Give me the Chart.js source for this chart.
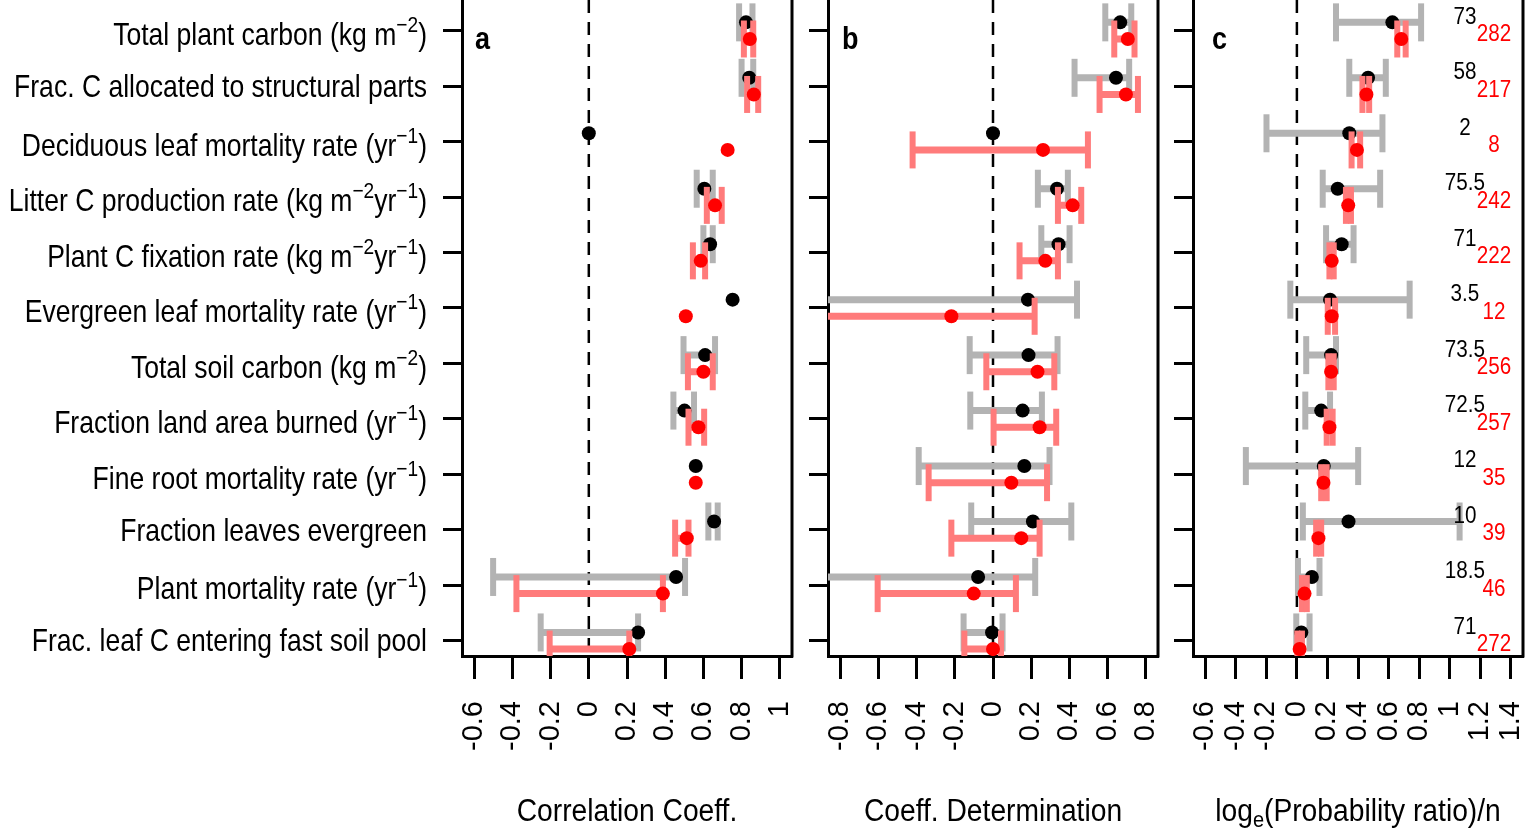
<!DOCTYPE html>
<html><head><meta charset="utf-8">
<script src="https://cdn.jsdelivr.net/npm/chart.js@4.4.1/dist/chart.umd.min.js"></script>
<style>
html,body{margin:0;padding:0;background:#fff;width:1529px;height:829px;overflow:hidden;}
canvas{position:absolute;top:0;}
</style></head><body>
<canvas id="ca" width="800" height="829" style="left:0px"></canvas>
<canvas id="cb" width="365" height="829" style="left:800px"></canvas>
<canvas id="cc" width="364" height="829" style="left:1165px"></canvas>
<script>
// ---------- categories (rows, top to bottom); ^{..} marks a superscript ----------
const categories = [
  'Total plant carbon (kg m^{\u22122})',
  'Frac. C allocated to structural parts',
  'Deciduous leaf mortality rate (yr^{\u22121})',
  'Litter C production rate (kg m^{\u22122}yr^{\u22121})',
  'Plant C fixation rate (kg m^{\u22122}yr^{\u22121})',
  'Evergreen leaf mortality rate (yr^{\u22121})',
  'Total soil carbon (kg m^{\u22122})',
  'Fraction land area burned (yr^{\u22121})',
  'Fine root mortality rate (yr^{\u22121})',
  'Fraction leaves evergreen',
  'Plant mortality rate (yr^{\u22121})',
  'Frac. leaf C entering fast soil pool'
];
const rows = [1,2,3,4,5,6,7,8,9,10,11,12];

// ---------- panel a : Correlation Coeff. ----------
const aBlack   = [0.823, 0.840, 0.000, 0.605, 0.635, 0.753, 0.609, 0.501, 0.560, 0.656, 0.457, 0.258];
const aBlackLo = [0.787, 0.800, null,  0.565, 0.600, null,  0.496, 0.443, null,  0.626, -0.501, -0.252];
const aBlackHi = [0.857, 0.861, null,  0.649, 0.649, null,  0.661, 0.551, null,  0.675, 0.504, 0.258];
const aRed     = [0.843, 0.864, 0.727, 0.661, 0.586, 0.508, 0.600, 0.574, 0.560, 0.513, 0.388, 0.212];
const aRedLo   = [0.812, 0.829, null,  0.618, 0.545, null,  0.519, 0.522, null,  0.452, -0.379, -0.205];
const aRedHi   = [0.861, 0.887, null,  0.696, 0.609, null,  0.649, 0.604, null,  0.522, 0.388, 0.212];
const aTicks   = [-0.6, -0.4, -0.2, 0, 0.2, 0.4, 0.6, 0.8, 1];
const aTickLabels = ['-0.6','-0.4','-0.2','0','0.2','0.4','0.6','0.8','1'];

// ---------- panel b : Coeff. Determination ----------
const bBlack   = [0.666, 0.644, 0.000, 0.335, 0.343, 0.183, 0.186, 0.155, 0.164, 0.209, -0.078, -0.005];
const bBlackLo = [0.588, 0.427, null,  0.235, 0.253, -1.2,  -0.122, -0.119, -0.389, -0.114, -1.2, -0.154];
const bBlackHi = [0.724, 0.713, null,  0.392, 0.401, 0.440, 0.338, 0.256, 0.296, 0.410, 0.221, 0.050];
const bRed     = [0.706, 0.696, 0.262, 0.417, 0.274, -0.218, 0.233, 0.244, 0.096, 0.148, -0.101, 0.000];
const bRedLo   = [0.635, 0.558, -0.421, 0.340, 0.139, -1.2, -0.035, 0.003, -0.337, -0.218, -0.604, -0.150];
const bRedHi   = [0.741, 0.759, 0.497, 0.462, 0.340, 0.218, 0.321, 0.331, 0.283, 0.244, 0.120, 0.042];
const bTicks   = [-0.8, -0.6, -0.4, -0.2, 0, 0.2, 0.4, 0.6, 0.8];
const bTickLabels = ['-0.8','-0.6','-0.4','-0.2','0','0.2','0.4','0.6','0.8'];

// ---------- panel c : log_e(Probability ratio)/n ----------
const cBlack   = [0.625, 0.466, 0.343, 0.267, 0.293, 0.217, 0.224, 0.159, 0.176, 0.338, 0.098, 0.029];
const cBlackLo = [0.256, 0.343, -0.199, 0.169, 0.191, -0.043, 0.061, 0.055, -0.334, 0.039, 0.007, -0.004];
const cBlackHi = [0.813, 0.582, 0.560, 0.545, 0.371, 0.738, 0.256, 0.217, 0.401, 1.065, 0.148, 0.083];
const cRed     = [0.683, 0.455, 0.393, 0.336, 0.228, 0.228, 0.224, 0.213, 0.174, 0.141, 0.050, 0.018];
const cRedLo   = [0.657, 0.429, 0.358, 0.321, 0.213, 0.202, 0.206, 0.195, 0.159, 0.126, 0.033, 0.003];
const cRedHi   = [0.712, 0.473, 0.414, 0.354, 0.241, 0.250, 0.241, 0.234, 0.195, 0.159, 0.065, 0.033];
const cTicks   = [-0.6, -0.4, -0.2, 0, 0.2, 0.4, 0.6, 0.8, 1, 1.2, 1.4];
const cTickLabels = ['-0.6','-0.4','-0.2','0','0.2','0.4','0.6','0.8','1','1.2','1.4'];
const cCountBlack = ['73','58','2','75.5','71','3.5','73.5','72.5','12','10','18.5','71'];
const cCountRed   = ['282','217','8','242','222','12','256','257','35','39','46','272'];

// ---------- styling ----------
const GRAY = '#B3B3B3', LRED = '#FF7B7B', RED = '#FF0000', BLACK = '#000000';
const REG = "'Liberation Sans', Arimo, Arial, sans-serif";
const Y_MIN = 0.447, Y_MAX = 12.275, OFF = 0.15;

function barData(lo, hi, off) {
  const d = [];
  rows.forEach((r, i) => {
    if (lo[i] === null) return;
    d.push({x: lo[i], y: r + off}, {x: hi[i], y: r + off}, {x: null, y: null});
  });
  return d;
}
function ptData(v, off) { return rows.map((r, i) => ({x: v[i], y: r + off})); }

function parseRich(str) {
  const out = []; const re = /\^\{([^}]*)\}|_\{([^}]*)\}/g; let last = 0, m;
  while ((m = re.exec(str))) {
    if (m.index > last) out.push({t: str.slice(last, m.index), k: 'n'});
    out.push(m[1] !== undefined ? {t: m[1], k: 'sup'} : {t: m[2], k: 'sub'});
    last = re.lastIndex;
  }
  if (last < str.length) out.push({t: str.slice(last), k: 'n'});
  return out;
}
function richText(ctx, str, x, y, o) {
  const segs = parseRich(str);
  const fontFor = k => (o.bold ? 'bold ' : '') + (k === 'n' ? o.size : Math.round(o.size * 0.72)) + 'px ' + REG;
  let w = 0;
  segs.forEach(s => { ctx.font = fontFor(s.k); s.w = ctx.measureText(s.t).width; w += s.w; });
  const start = o.align === 'right' ? -w : o.align === 'center' ? -w / 2 : 0;
  ctx.save();
  ctx.translate(x, y); ctx.scale(o.sx, 1);
  ctx.fillStyle = o.color || '#000'; ctx.textAlign = 'left'; ctx.textBaseline = 'alphabetic';
  let cx = start;
  segs.forEach(s => {
    ctx.font = fontFor(s.k);
    const dy = s.k === 'sup' ? -o.size * 0.42 : s.k === 'sub' ? o.size * 0.2 : 0;
    ctx.fillText(s.t, cx, dy); cx += s.w;
  });
  ctx.restore();
}

const framePlugin = {
  id: 'frame',
  afterDraw(chart, args, o) {
    const ctx = chart.ctx, ca = chart.chartArea, xs = chart.scales.x, ys = chart.scales.y;
    ctx.save();
    ctx.strokeStyle = '#000'; ctx.lineWidth = 3;
    ctx.beginPath(); ctx.moveTo(ca.right, ca.top); ctx.lineTo(ca.right, ca.bottom + 1.5); ctx.stroke();
    ctx.restore();
    // panel letter
    richText(ctx, o.letter, ca.left + o.letterDx, 49, {size: 31, bold: true, sx: 0.87, align: 'left'});
    // axis title
    richText(ctx, o.title, (ca.left + ca.right) / 2, 821, {size: 31, sx: 0.91, align: 'center'});
    // category labels
    if (o.showLabels) {
      ys.ticks.forEach((t) => {
        const lab = categories[Math.round(t.value) - 1];
        const hasSup = lab.indexOf('^{') >= 0;
        const py = ys.getPixelForValue(t.value) + 10.7 + (hasSup ? 3.5 : 0);
        richText(ctx, lab, ca.left - 35, py, {size: 30.5, sx: 0.87, align: 'right'});
      });
    }
    // sample counts
    if (o.countsBlack) {
      rows.forEach((r, i) => {
        const py = ys.getPixelForValue(r);
        richText(ctx, o.countsBlack[i], xs.getPixelForValue(o.blackX), py - 15.5 + 8.6,
                 {size: 24, sx: 0.86, align: 'center', color: '#000'});
        richText(ctx, o.countsRed[i], xs.getPixelForValue(o.redX), py + 2 + 8.6,
                 {size: 24, sx: 0.86, align: 'center', color: RED});
      });
    }
  }
};

function makePanel(id, p) {
  const datasets = [
    {data: [{x: 0, y: Y_MIN}, {x: 0, y: Y_MAX}], showLine: true, borderColor: '#000', borderWidth: 2.5,
     borderDash: [13, 9], pointRadius: 0, order: 5},
    {data: barData(p.blo, p.bhi, -OFF), showLine: true, borderColor: GRAY, borderWidth: 7,
     pointStyle: 'line', pointRotation: 90, pointRadius: 19, pointBorderWidth: 6,
     pointBorderColor: GRAY, pointBackgroundColor: GRAY, order: 4},
    {data: ptData(p.b, -OFF), showLine: false, pointRadius: 7, pointBorderWidth: 0,
     pointBackgroundColor: BLACK, pointBorderColor: BLACK, order: 3},
    {data: barData(p.rlo, p.rhi, OFF), showLine: true, borderColor: LRED, borderWidth: 7,
     pointStyle: 'line', pointRotation: 90, pointRadius: 18.5, pointBorderWidth: 6,
     pointBorderColor: LRED, pointBackgroundColor: LRED, order: 2},
    {data: ptData(p.r, OFF), showLine: false, pointRadius: 7, pointBorderWidth: 0,
     pointBackgroundColor: RED, pointBorderColor: RED, order: 1}
  ];
  return new Chart(document.getElementById(id), {
    type: 'scatter',
    data: {datasets},
    options: {
      responsive: false, animation: false, devicePixelRatio: 1, events: [],
      layout: {autoPadding: false, padding: {left: 0, right: p.padRight, top: 0, bottom: 0}},
      plugins: {legend: {display: false}, tooltip: {enabled: false},
        frame: {letter: p.letter, letterDx: p.letterDx, title: p.title, showLabels: p.showLabels,
                countsBlack: p.countsBlack, countsRed: p.countsRed, blackX: 1.1, redX: 1.29}},
      scales: {
        x: {
          type: 'linear', min: p.xmin, max: p.xmax,
          afterBuildTicks: s => { s.ticks = p.ticks.map(v => ({value: v})); },
          afterFit: s => { s.height = 173; s.paddingLeft = 0; s.paddingRight = 0; },
          ticks: {autoSkip: false, minRotation: 90, maxRotation: 90, padding: 22, color: '#000',
                  font: {family: REG, size: 29}, callback: (v, i) => p.tickLabels[i]},
          grid: {display: true, drawOnChartArea: false, drawTicks: true, tickLength: 23,
                 tickWidth: 3, tickColor: '#000'},
          border: {display: true, width: 3, color: '#000'},
          title: {display: false}
        },
        y: {
          type: 'linear', reverse: true, min: Y_MIN, max: Y_MAX,
          afterBuildTicks: s => { s.ticks = rows.map(v => ({value: v})); },
          afterFit: s => { s.width = p.yWidth; s.paddingTop = 0; s.paddingBottom = 0; },
          ticks: {display: false},
          grid: {display: true, drawOnChartArea: false, drawTicks: true, tickLength: 19,
                 tickWidth: 3, tickColor: '#000'},
          border: {display: true, width: 3, color: '#000'}
        }
      }
    },
    plugins: [framePlugin]
  });
}

makePanel('ca', {b: aBlack, blo: aBlackLo, bhi: aBlackHi, r: aRed, rlo: aRedLo, rhi: aRedHi,
  xmin: -0.664, xmax: 1.064, ticks: aTicks, tickLabels: aTickLabels, title: 'Correlation Coeff.',
  yWidth: 462, padRight: 8, showLabels: true, letter: 'a', letterDx: 13});
makePanel('cb', {b: bBlack, blo: bBlackLo, bhi: bBlackHi, r: bRed, rlo: bRedLo, rhi: bRedHi,
  xmin: -0.864, xmax: 0.864, ticks: bTicks, tickLabels: bTickLabels, title: 'Coeff. Determination',
  yWidth: 28, padRight: 7, showLabels: false, letter: 'b', letterDx: 14});
makePanel('cc', {b: cBlack, blo: cBlackLo, bhi: cBlackHi, r: cRed, rlo: cRedLo, rhi: cRedHi,
  xmin: -0.68, xmax: 1.48, ticks: cTicks, tickLabels: cTickLabels, title: 'log_{e}(Probability ratio)/n',
  yWidth: 28, padRight: 6, showLabels: false, letter: 'c', letterDx: 19,
  countsBlack: cCountBlack, countsRed: cCountRed});
</script>
</body></html>
